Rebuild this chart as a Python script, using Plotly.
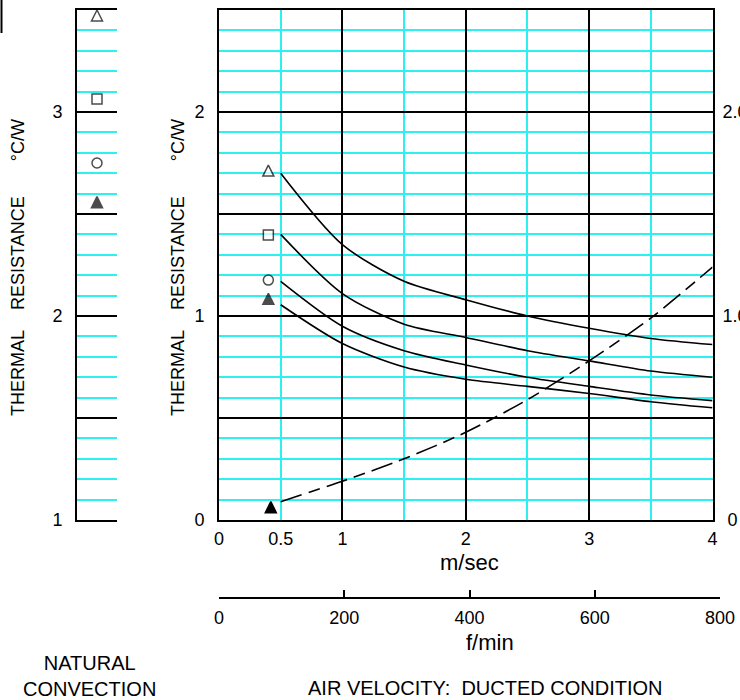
import plotly.graph_objects as go

W, H = 740, 700


def px(x):
    return x / W


def py(y):
    return 1 - y / H


# ---------------- data ----------------
velocity_ms = [0.5, 1.0, 1.5, 2.0, 2.5, 3.0, 3.5, 4.0]
curve_triangle = [1.70, 1.35, 1.17, 1.08, 1.00, 0.94, 0.89, 0.86]
curve_square = [1.40, 1.11, 0.96, 0.895, 0.83, 0.78, 0.73, 0.70]
curve_circle = [1.17, 0.95, 0.83, 0.76, 0.70, 0.655, 0.613, 0.585]
curve_filled = [1.055, 0.865, 0.75, 0.69, 0.655, 0.62, 0.58, 0.55]
pressure_drop = [0.09, 0.19, 0.30, 0.43, 0.59, 0.78, 0.99, 1.24]

# legend-type markers (natural convection panel and at start of curves)
natural_values = [3.5, 3.064, 2.75, 2.585]
ducted_marker_x = 0.40
ducted_marker_values = [1.74, 1.397, 1.176, 1.111]
pressure_marker_x = 0.42
pressure_marker_value = 0.09

marker_symbols = ["arrow-up", "square", "circle", "arrow-up"]
marker_fills = ["white", "white", "white", "black"]
marker_sizes = [11, 10, 10, 11]

ms_tickvals = [0, 1, 2, 3, 4]
ms_ticktext = ["0", "1", "2", "3", "4"]
ms_extra_tickvals = [0.5]
ms_extra_ticktext = ["0.5"]
fpm_tickvals = [0, 200, 400, 600, 800]
fpm_ticktext = ["0", "200", "400", "600", "800"]
res_tickvals = [0, 0.5, 1, 1.5, 2, 2.5]
res_ticktext = ["0", "", "1", "", "2", ""]
nat_tickvals = [1, 1.5, 2, 2.5, 3, 3.5]
nat_ticktext = ["1", "", "2", "", "3", ""]
dp_tickvals = [0, 1, 2]
dp_ticktext = [" 0", "1.0", "2.0"]

CYAN = "#2EF0F0"
FONT = "Liberation Sans, Arial, sans-serif"

fig = go.Figure()

# thermal resistance curves
for ys in [curve_triangle, curve_square, curve_circle, curve_filled]:
    fig.add_trace(go.Scatter(
        x=velocity_ms, y=ys, mode="lines", xaxis="x", yaxis="y",
        line=dict(color="black", width=1.6, shape="spline", smoothing=0.8),
        hoverinfo="skip"))

# pressure drop (right axis)
fig.add_trace(go.Scatter(
    x=velocity_ms, y=pressure_drop, mode="lines", xaxis="x", yaxis="y3",
    line=dict(color="black", width=1.6, shape="spline", smoothing=0.8,
              dash="22px,7px,12px,7px"),
    hoverinfo="skip"))

# markers in main plot
fig.add_trace(go.Scatter(
    x=[ducted_marker_x] * 4, y=ducted_marker_values, mode="markers",
    xaxis="x", yaxis="y", cliponaxis=False,
    marker=dict(symbol=marker_symbols, size=marker_sizes, color=marker_fills,
                line=dict(color="black", width=1.5)),
    hoverinfo="skip"))
fig.add_trace(go.Scatter(
    x=[pressure_marker_x], y=[pressure_marker_value], mode="markers",
    xaxis="x", yaxis="y3", cliponaxis=False,
    marker=dict(symbol="arrow-up", size=11, color="black",
                line=dict(color="black", width=1.5)),
    hoverinfo="skip"))

# natural convection panel markers
fig.add_trace(go.Scatter(
    x=[0.5] * 4, y=natural_values, mode="markers",
    xaxis="x2", yaxis="y2", cliponaxis=False,
    marker=dict(symbol=marker_symbols, size=marker_sizes, color=marker_fills,
                line=dict(color="black", width=1.5)),
    hoverinfo="skip"))

# empty traces to register helper axes
fig.add_trace(go.Scatter(x=[], y=[], xaxis="x3", yaxis="y", hoverinfo="skip"))
fig.add_trace(go.Scatter(x=[], y=[], xaxis="x4", yaxis="y4", hoverinfo="skip"))

tick_font = dict(family=FONT, size=18, color="black")

fig.update_layout(
    width=W, height=H,
    margin=dict(l=0, r=0, t=0, b=0, autoexpand=False),
    paper_bgcolor="white", plot_bgcolor="white",
    showlegend=False,
    font=dict(family=FONT, size=18, color="black"),
    xaxis=dict(
        domain=[px(219), px(712.5)], range=[0, 4], anchor="y",
        tickmode="array", tickvals=ms_tickvals, ticktext=ms_ticktext,
        showgrid=True, gridcolor="black", gridwidth=1.5,
        minor=dict(tickmode="linear", tick0=0, dtick=0.5, showgrid=True,
                   gridcolor=CYAN, gridwidth=1.5, ticks=""),
        showline=True, linecolor="black", linewidth=2, mirror=True,
        ticks="", zeroline=False, tickfont=tick_font, automargin=False,
        ticklabelstandoff=1, fixedrange=True),
    xaxis3=dict(
        overlaying="x", anchor="y", range=[0, 4],
        tickmode="array", tickvals=ms_extra_tickvals,
        ticktext=ms_extra_ticktext,
        showgrid=False, showline=False, zeroline=False, ticks="",
        tickfont=tick_font, ticklabelstandoff=6, fixedrange=True,
        automargin=False),
    yaxis=dict(
        domain=[py(520), py(10)], range=[0, 2.5], anchor="x",
        tickmode="array", tickvals=res_tickvals, ticktext=res_ticktext,
        showgrid=True, gridcolor="black", gridwidth=1.5,
        minor=dict(tickmode="linear", tick0=0, dtick=0.1, showgrid=True,
                   gridcolor=CYAN, gridwidth=1.5, ticks=""),
        showline=True, linecolor="black", linewidth=2, mirror=True,
        ticks="", zeroline=False, tickfont=tick_font, automargin=False,
        ticklabelstandoff=9, fixedrange=True),
    yaxis3=dict(
        overlaying="y", side="right", anchor="x", range=[0, 2.5],
        tickmode="array", tickvals=dp_tickvals, ticktext=dp_ticktext,
        showgrid=False, showline=False, zeroline=False, ticks="",
        tickfont=tick_font, ticklabelstandoff=9, fixedrange=True,
        automargin=False),
    xaxis2=dict(
        domain=[px(77), px(117)], range=[0, 1], anchor="y2",
        showgrid=False, showline=True, mirror=True, linecolor="black",
        linewidth=1.5, zeroline=False,
        showticklabels=False, ticks="", fixedrange=True, automargin=False),
    yaxis2=dict(
        domain=[py(520), py(10)], range=[1, 3.5], anchor="x2",
        tickmode="array", tickvals=nat_tickvals, ticktext=nat_ticktext,
        showgrid=True, gridcolor="black", gridwidth=1.5,
        minor=dict(tickmode="linear", tick0=1, dtick=0.1, showgrid=True,
                   gridcolor=CYAN, gridwidth=1.5, ticks=""),
        showline=True, linecolor="black", linewidth=2,
        ticks="", zeroline=False, tickfont=tick_font, automargin=False,
        ticklabelstandoff=9, fixedrange=True),
    xaxis4=dict(
        domain=[px(219), px(720)], range=[0, 800], anchor="y4",
        tickmode="array", tickvals=fpm_tickvals, ticktext=fpm_ticktext,
        ticks="inside", ticklen=7, tickwidth=1.5, tickcolor="black",
        showline=True, linecolor="black", linewidth=1.5,
        showgrid=False, zeroline=False, tickfont=tick_font,
        ticklabelstandoff=4, fixedrange=True, automargin=False),
    yaxis4=dict(
        domain=[py(597), py(590)], range=[0, 1], anchor="x4",
        visible=False, fixedrange=True),
)

nb = "\u00a0"
ytitle = "THERMAL" + nb * 4 + "RESISTANCE" + nb * 7 + "°C/W"
ann_font = dict(family=FONT, size=18, color="black")
big_font = dict(family=FONT, size=20, color="black")

fig.add_annotation(x=px(17.5), y=py(267.5), xref="paper", yref="paper",
                   text=ytitle, textangle=-90, showarrow=False,
                   xanchor="center", yanchor="middle", font=ann_font)
fig.add_annotation(x=px(177.5), y=py(267.5), xref="paper", yref="paper",
                   text=ytitle, textangle=-90, showarrow=False,
                   xanchor="center", yanchor="middle", font=ann_font)
fig.add_annotation(x=px(470), y=py(562), xref="paper", yref="paper",
                   text="m/sec", showarrow=False, xanchor="center",
                   yanchor="middle", font=dict(family=FONT, size=22, color="black"))
fig.add_annotation(x=px(490), y=py(642), xref="paper", yref="paper",
                   text="f/min", showarrow=False, xanchor="center",
                   yanchor="middle", font=dict(family=FONT, size=22, color="black"))
fig.add_annotation(x=px(89), y=py(676), xref="paper", yref="paper",
                   text="NATURAL<br>CONVECTION", showarrow=False,
                   xanchor="center", yanchor="middle", font=big_font)
fig.add_annotation(x=px(485), y=py(688), xref="paper", yref="paper",
                   text="AIR VELOCITY:" + nb * 2 + "DUCTED CONDITION",
                   showarrow=False, xanchor="center", yanchor="middle",
                   font=big_font)

# small edge mark at top-left corner of the original drawing
fig.add_shape(type="line", xref="paper", yref="paper",
              x0=px(1.5), x1=px(1.5), y0=1, y1=py(33),
              line=dict(color="black", width=2))

fig.write_html(
    "out.html",
    config={"displayModeBar": False},
    post_script="document.body.style.margin='0';",
)
